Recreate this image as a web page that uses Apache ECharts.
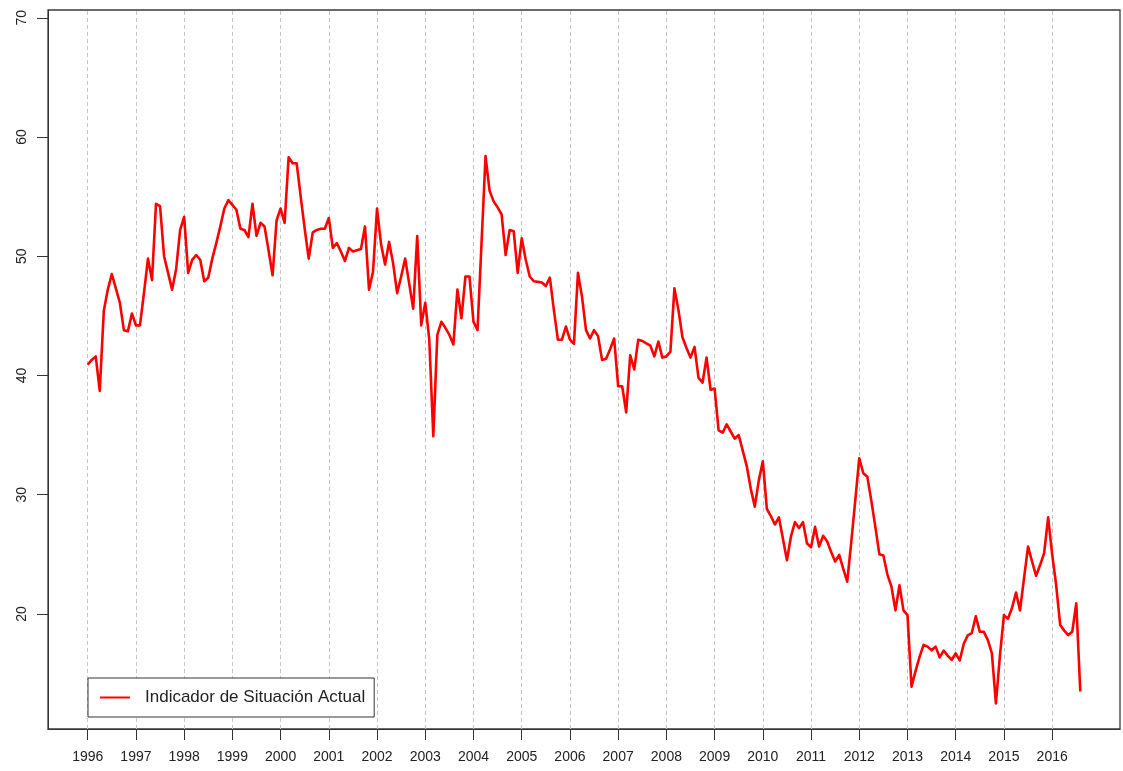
<!DOCTYPE html>
<html>
<head>
<meta charset="utf-8">
<title>Indicador de Situación Actual</title>
<script src="https://cdn.jsdelivr.net/npm/echarts@6/dist/echarts.min.js"></script>
<style>
  html, body { margin: 0; padding: 0; background: #ffffff; }
  #chart { width: 1123px; height: 771px; }
</style>
</head>
<body>
<div id="chart"></div>
<script>
// Monthly index, January 1996 to August 2016
const startYear = 1996;
const seriesName = 'Indicador de Situación Actual';
const situacionActual = [
  // 1996
  40.9, 41.3, 41.6, 38.7, 45.4, 47.2, 48.5, 47.3, 46.1, 43.8, 43.7, 45.2,
  // 1997
  44.2, 44.2, 46.9, 49.8, 48.0, 54.4, 54.2, 50.0, 48.6, 47.2, 48.9, 52.2,
  // 1998
  53.3, 48.6, 49.7, 50.1, 49.7, 47.9, 48.2, 49.8, 51.1, 52.5, 54.0, 54.7,
  // 1999
  54.3, 53.9, 52.3, 52.2, 51.6, 54.4, 51.7, 52.8, 52.5, 50.5, 48.4, 53.0,
  // 2000
  54.0, 52.8, 58.3, 57.8, 57.8, 55.0, 52.3, 49.8, 52.0, 52.2, 52.3, 52.3,
  // 2001
  53.2, 50.7, 51.1, 50.4, 49.6, 50.7, 50.4, 50.5, 50.6, 52.5, 47.2, 48.7,
  // 2002
  54.0, 51.0, 49.3, 51.2, 49.4, 46.9, 48.3, 49.8, 47.7, 45.6, 51.7, 44.2,
  // 2003
  46.1, 43.0, 34.9, 43.4, 44.5, 44.0, 43.4, 42.6, 47.2, 44.8, 48.3, 48.3,
  // 2004
  44.5, 43.8, 51.1, 58.4, 55.5, 54.6, 54.1, 53.5, 50.1, 52.2, 52.1, 48.6,
  // 2005
  51.5, 49.7, 48.3, 47.9, 47.85, 47.8, 47.5, 48.2, 45.5, 43.0, 43.0, 44.1,
  // 2006
  43.0, 42.65, 48.6, 46.6, 43.8, 43.1, 43.8, 43.3, 41.3, 41.4, 42.2, 43.1,
  // 2007
  39.1, 39.1, 36.9, 41.7, 40.5, 43.0, 42.9, 42.7, 42.5, 41.6, 42.85, 41.5,
  // 2008
  41.6, 42.0, 47.3, 45.5, 43.2, 42.3, 41.5, 42.4, 39.8, 39.4, 41.5, 38.8,
  // 2009
  38.9, 35.4, 35.2, 35.9, 35.3, 34.7, 35.0, 33.7, 32.4, 30.5, 29.0, 31.2,
  // 2010
  32.8, 28.8, 28.2, 27.5, 28.1, 26.3, 24.5, 26.5, 27.7, 27.2, 27.7, 25.9,
  // 2011
  25.6, 27.3, 25.65, 26.55, 26.1, 25.2, 24.4, 24.95, 23.8, 22.7, 26.0, 29.5,
  // 2012
  33.06, 31.8, 31.5, 29.5, 27.3, 25.0, 24.9, 23.3, 22.3, 20.3, 22.4, 20.3,
  // 2013
  19.9, 13.9, 15.2, 16.4, 17.4, 17.26, 16.95, 17.26, 16.36, 16.92, 16.5, 16.14,
  // 2014
  16.7, 16.1, 17.5, 18.2, 18.4, 19.8, 18.5, 18.5, 17.8, 16.7, 12.5, 16.5,
  // 2015
  19.9, 19.6, 20.5, 21.8, 20.3, 23.0, 25.65, 24.4, 23.2, 24.1, 25.1, 28.1,
  // 2016
  25.0, 22.4, 19.07, 18.6, 18.23, 18.5, 20.9, 13.5
];

const yearTicks = [1996, 1997, 1998, 1999, 2000, 2001, 2002, 2003, 2004, 2005, 2006,
                   2007, 2008, 2009, 2010, 2011, 2012, 2013, 2014, 2015, 2016];
const valueTicks = [20, 30, 40, 50, 60, 70];

// Each month sits at its decimal-year position
const points = situacionActual.map((v, i) => [startYear + i / 12, v]);

// Axis ranges padded by 4% of the data span on each side
const xFirst = startYear;
const xLast = startYear + (situacionActual.length - 1) / 12;
const xPad = (xLast - xFirst) * 0.04;

const chart = echarts.init(document.getElementById('chart'), null, { renderer: 'canvas' });

const font = 'Liberation Sans, Arial, sans-serif';

chart.setOption({
  animation: false,
  backgroundColor: '#ffffff',
  grid: {
    left: 48, right: 3, top: 10, bottom: 42,
    show: true,
    borderColor: '#3a3a3a',
    borderWidth: 1.3,
    backgroundColor: 'transparent'
  },
  legend: {
    data: [seriesName],
    left: 88,
    top: 678,
    orient: 'horizontal',
    icon: 'rect',
    itemWidth: 30,
    itemHeight: 2,
    padding: [11, 9, 11, 12],
    borderColor: '#333333',
    borderWidth: 1,
    borderRadius: 0,
    backgroundColor: '#ffffff',
    selectedMode: false,
    textStyle: {
      fontFamily: font,
      fontSize: 17,
      color: '#222222',
      padding: [0, 0, 0, 10]
    }
  },
  xAxis: {
    type: 'value',
    min: xFirst - xPad,
    max: xLast + xPad,
    axisLine: { show: true, onZero: false, lineStyle: { color: '#333333', width: 1 } },
    axisTick: {
      show: true,
      length: 11,
      customValues: yearTicks,
      lineStyle: { color: '#333333', width: 1 }
    },
    axisLabel: {
      customValues: yearTicks,
      formatter: v => String(Math.round(v)),
      fontFamily: font,
      fontSize: 14,
      color: '#222222',
      margin: 21
    },
    splitLine: { show: false }
  },
  yAxis: {
    type: 'value',
    min: 10.35,
    max: 70.65,
    axisLine: { show: true, lineStyle: { color: '#333333', width: 1 } },
    axisTick: {
      show: true,
      length: 11,
      customValues: valueTicks,
      lineStyle: { color: '#333333', width: 1 }
    },
    axisLabel: {
      customValues: valueTicks,
      rotate: 90,
      formatter: v => String(Math.round(v)),
      fontFamily: font,
      fontSize: 14,
      color: '#222222',
      margin: 19
    },
    splitLine: { show: false }
  },
  series: [
    {
      // dashed vertical year guides, drawn beneath the index line
      name: 'guides',
      type: 'line',
      data: [],
      z: 1,
      silent: true,
      markLine: {
        z: 1,
        silent: true,
        symbol: ['none', 'none'],
        label: { show: false },
        lineStyle: { color: '#c4c4c4', width: 1, type: [4, 3] },
        emphasis: { disabled: true },
        data: yearTicks.map(y => ({ xAxis: y }))
      }
    },
    {
      name: seriesName,
      type: 'line',
      data: points,
      z: 3,
      symbol: 'none',
      showSymbol: false,
      lineStyle: { color: '#ff0000', width: 2.6, join: 'round' },
      itemStyle: { color: '#ff0000' }
    }
  ]
});
</script>
</body>
</html>
